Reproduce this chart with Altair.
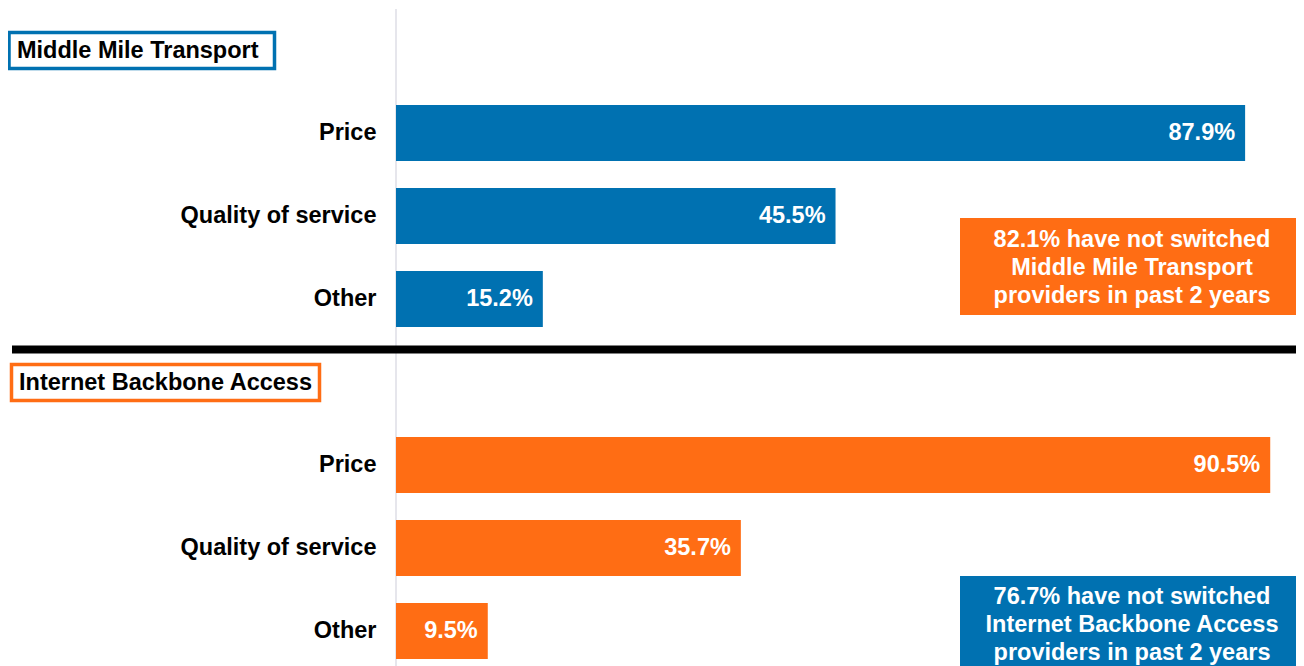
import altair as alt
import pandas as pd

groups = ["Middle Mile Transport", "Internet Backbone Access"]
categories = ["Price", "Quality of service", "Other"]
mmt_values = [87.9, 45.5, 15.2]
iba_values = [90.5, 35.7, 9.5]
group_colors = ["#0071B1", "#FF6D14"]
note_colors = ["#FF6D14", "#0071B1"]
notes = [
    "82.1% have not switched\nMiddle Mile Transport\nproviders in past 2 years",
    "76.7% have not switched\nInternet Backbone Access\nproviders in past 2 years",
]

FONT = "Liberation Sans"
FS = 23.5

rows = []
row_order = []
for g, vals, col in zip(groups, [mmt_values, iba_values], group_colors):
    row_order.append(f"{g}|")
    for c, v in zip(categories, vals):
        key = f"{g}|{c}"
        row_order.append(key)
        rows.append({"group": g, "category": c, "value": v, "row": key,
                     "color": col, "label": f"{v:.1f}%"})
df = pd.DataFrame(rows)

H = 658
W = 900
yscale = alt.Scale(domain=row_order, range=[14, 651], paddingInner=0.325, paddingOuter=0)
xscale = alt.Scale(domain=[0, W / 9.66], nice=False, zero=True)

base = alt.Chart(df)

axis_line = alt.Chart(pd.DataFrame({"x": [0]})).mark_rule(color="#E6E6EC", strokeWidth=2).encode(
    x=alt.X("x:Q", scale=xscale, axis=None),
    y=alt.value(1), y2=alt.value(H),
)

bars = base.mark_bar().encode(
    x=alt.X("value:Q", scale=xscale, axis=None),
    y=alt.Y("row:N", scale=yscale, sort=row_order,
            axis=alt.Axis(title=None, domain=False, ticks=False, grid=False,
                          labelPadding=20, labelFontSize=FS, labelFontWeight="bold",
                          labelColor="black", labelFont=FONT, labelLimit=0,
                          labelExpr="split(datum.label, '|')[1]")),
    color=alt.Color("color:N", scale=None),
)

bar_labels = base.mark_text(align="right", baseline="middle", dx=-10, color="white",
                            font=FONT, fontSize=FS, fontWeight="bold").encode(
    x=alt.X("value:Q", scale=xscale),
    y=alt.Y("row:N", scale=yscale, sort=row_order),
    text="label:N",
)

hdr_df = pd.DataFrame({
    "title": groups,
    "color": group_colors,
    "x": [-387, -384.5], "x2": [-121.5, -76.5],
    "y": [24.5, 356.5], "y2": [60.5, 392.5],
    "tx": [-379, -377], "ty": [43, 375],
})
hdr_layers = []
for i in range(2):
    r = hdr_df.iloc[[i]]
    hdr_layers.append(alt.Chart(r).mark_rect(fill="white", stroke=group_colors[i], strokeWidth=3.5).encode(
        x=alt.value(float(r.x.iloc[0])), x2=alt.value(float(r.x2.iloc[0])),
        y=alt.value(float(r.y.iloc[0])), y2=alt.value(float(r.y2.iloc[0])),
    ))
    hdr_layers.append(alt.Chart(r).mark_text(align="left", baseline="middle", color="black",
                                            font=FONT, fontSize=FS, fontWeight="bold").encode(
        x=alt.value(float(r.tx.iloc[0])), y=alt.value(float(r.ty.iloc[0])), text="title:N",
    ))

separator = alt.Chart(pd.DataFrame({"a": [0]})).mark_rule(color="black", strokeWidth=8).encode(
    x=alt.value(-384), x2=alt.value(W), y=alt.value(341.5),
)

note_layers = []
note_boxes = [(564, W, 210, 307, 232), (564, W, 568, 700, 589)]
for i, (x1, x2, y1, y2, ty) in enumerate(note_boxes):
    nd = pd.DataFrame({"text": [notes[i]]})
    note_layers.append(alt.Chart(nd).mark_rect(fill=note_colors[i]).encode(
        x=alt.value(x1), x2=alt.value(x2), y=alt.value(y1), y2=alt.value(y2),
    ))
    note_layers.append(alt.Chart(nd).mark_text(align="center", baseline="middle", color="white",
                                               font=FONT, fontSize=FS, fontWeight="bold",
                                               lineBreak="\n", lineHeight=28).encode(
        x=alt.value(736), y=alt.value(ty), text="text:N",
    ))

chart = alt.layer(axis_line, bars, bar_labels, *hdr_layers, separator, *note_layers).properties(
    width=W, height=H,
    autosize=alt.AutoSizeParams(type="none"),
    padding={"left": 388, "top": 0, "right": 0, "bottom": 0},
).configure_view(stroke=None)

chart.save("out.html", embed_options={"renderer": "svg", "actions": False})
